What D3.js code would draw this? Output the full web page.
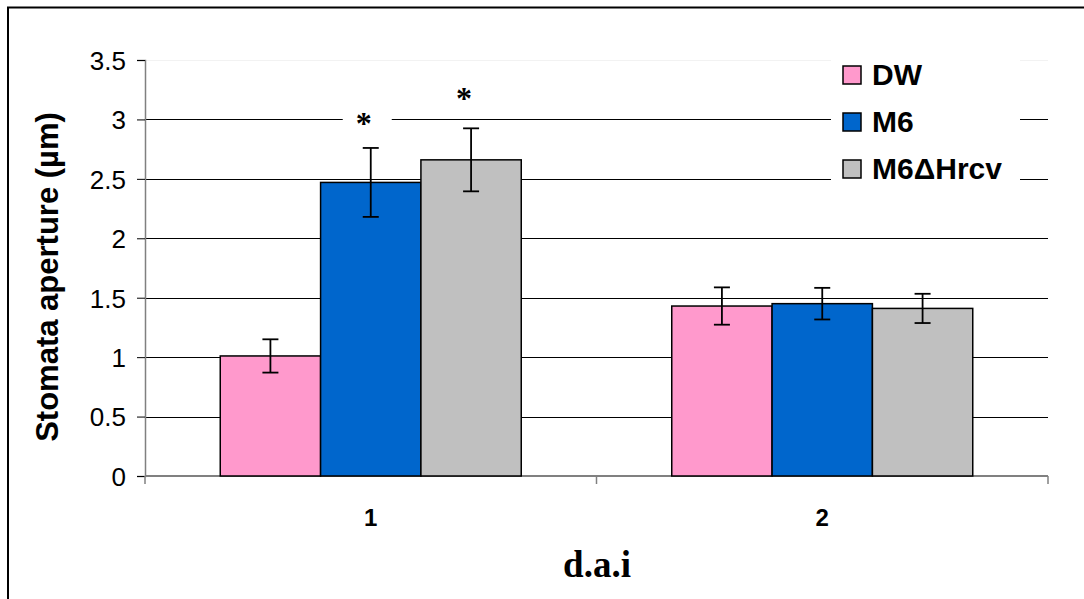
<!DOCTYPE html>
<html>
<head>
<meta charset="utf-8">
<script src="https://cdn.jsdelivr.net/npm/d3@7/dist/d3.min.js"></script>
<style>
  html, body { margin: 0; padding: 0; background: #fff; }
  svg { display: block; }
</style>
</head>
<body>
<svg id="chart" width="1084" height="599"></svg>
<script>
// ---- data ----
const categories = ["1", "2"];
const seriesNames = ["DW", "M6", "M6\u0394Hrcv"];
const seriesColors = ["#FF99CC", "#0066CC", "#C0C0C0"];
const meanDW = [1.01, 1.43];
const meanM6 = [2.47, 1.45];
const meanM6H = [2.66, 1.41];
const errDW = [0.14, 0.157];
const errM6 = [0.29, 0.133];
const errM6H = [0.265, 0.123];
const yTicks = [0, 0.5, 1, 1.5, 2, 2.5, 3, 3.5];
// significance marks: [category, series index]
const stars = [["1", 1], ["1", 2]];
const starOffset = [0.23, 0.27];

const means = [meanDW, meanM6, meanM6H];
const errs = [errDW, errM6, errM6H];
const table = [];
categories.forEach((c, ci) => seriesNames.forEach((s, si) => {
  table.push({cat: c, ser: s, si: si, v: means[si][ci], e: errs[si][ci]});
}));

const svg = d3.select("#chart");
const plot = {left: 145, right: 1048, top: 60, bottom: 476};

// outer border (extends past right/bottom edges)
svg.append("rect").attr("x", 8).attr("y", 7.5).attr("width", 1200).attr("height", 800)
  .attr("fill", "#fff").attr("stroke", "#000").attr("stroke-width", 2);

const y = d3.scaleLinear().domain([0, 3.5]).range([plot.bottom, plot.top]);
const x = d3.scaleBand().domain(categories).range([plot.left, plot.right]).padding(0);
const bw = x.bandwidth() / 4.5;
const xs = d3.scaleBand().domain(seriesNames)
  .range([0.75 * bw, x.bandwidth() - 0.75 * bw]).padding(0);

// gridlines
svg.append("g").selectAll("line").data(yTicks.filter(t => t > 0)).join("line")
  .attr("x1", plot.left).attr("x2", plot.right)
  .attr("y1", d => Math.round(y(d)) + 0.5).attr("y2", d => Math.round(y(d)) + 0.5)
  .attr("stroke", d => d === 3.5 ? "#f2f2f2" : "#000").attr("stroke-width", 1);

// y axis
const yAxis = svg.append("g").attr("transform", `translate(${plot.left},0)`)
  .call(d3.axisLeft(y).tickValues(yTicks).tickSize(8).tickPadding(11).tickFormat(d3.format("")));
yAxis.select(".domain").attr("stroke", "#808080").attr("stroke-width", 1.5);
yAxis.selectAll(".tick line").attr("stroke", "#000");
yAxis.selectAll(".tick text").attr("font-family", "Liberation Sans, Arial, sans-serif")
  .attr("font-size", 26).attr("fill", "#000").attr("dy", "0.36em");

// x axis
const xAxis = svg.append("g").attr("transform", `translate(0,${plot.bottom})`);
xAxis.append("line").attr("x1", plot.left).attr("x2", plot.right).attr("y1", 0).attr("y2", 0)
  .attr("stroke", "#808080").attr("stroke-width", 2);
const bounds = categories.map(c => x(c)).concat([x(categories[categories.length - 1]) + x.bandwidth()]);
xAxis.selectAll("line.tk").data(bounds).join("line").attr("class", "tk")
  .attr("x1", d => d).attr("x2", d => d).attr("y1", 0).attr("y2", 8)
  .attr("stroke", "#808080").attr("stroke-width", 1.5);
xAxis.selectAll("text").data(categories).join("text")
  .attr("x", d => x(d) + x.bandwidth() / 2).attr("y", 50)
  .attr("text-anchor", "middle").attr("font-family", "Liberation Sans, Arial, sans-serif")
  .attr("font-weight", "bold").attr("font-size", 24).text(d => d);

// bars
svg.append("g").selectAll("rect").data(table).join("rect")
  .attr("x", d => x(d.cat) + xs(d.ser))
  .attr("y", d => y(d.v))
  .attr("width", xs.bandwidth())
  .attr("height", d => y(0) - y(d.v))
  .attr("fill", d => seriesColors[d.si])
  .attr("stroke", "#000").attr("stroke-width", 1.5);

// error bars
const eb = svg.append("g").attr("stroke", "#000").attr("stroke-width", 1.8);
table.forEach(d => {
  const cx = x(d.cat) + xs(d.ser) + xs.bandwidth() / 2;
  eb.append("line").attr("x1", cx).attr("x2", cx).attr("y1", y(d.v + d.e)).attr("y2", y(d.v - d.e));
  [d.v + d.e, d.v - d.e].forEach(v => {
    eb.append("line").attr("x1", cx - 8).attr("x2", cx + 8).attr("y1", y(v)).attr("y2", y(v));
  });
});

// significance stars
stars.forEach(([c, si], i) => {
  const d = table.find(t => t.cat === c && t.si === si);
  const cx = x(c) + xs(d.ser) + xs.bandwidth() / 2 - 7;
  const cy = y(d.v + d.e + starOffset[i]);
  svg.append("rect").attr("x", cx - 21).attr("y", cy - 16).attr("width", 49).attr("height", 32).attr("fill", "#fff");
  svg.append("text").attr("x", cx).attr("y", cy + 13).attr("text-anchor", "middle")
    .attr("font-family", "Liberation Serif, Times New Roman, serif").attr("font-weight", "bold")
    .attr("font-size", 32).text("*");
});

// legend
const lg = svg.append("g");
lg.append("rect").attr("x", 831).attr("y", 52).attr("width", 189).attr("height", 143).attr("fill", "#fff");
seriesNames.forEach((s, i) => {
  const yy = 66 + i * 47;
  lg.append("rect").attr("x", 843).attr("y", yy).attr("width", 18).attr("height", 18)
    .attr("fill", seriesColors[i]).attr("stroke", "#000").attr("stroke-width", 1.5);
  lg.append("text").attr("x", 872).attr("y", yy + 19)
    .attr("font-family", "Liberation Sans, Arial, sans-serif").attr("font-weight", "bold")
    .attr("font-size", 30).text(s);
});

// axis titles
svg.append("text").attr("transform", "translate(58,277) rotate(-90)")
  .attr("text-anchor", "middle").attr("font-family", "Liberation Sans, Arial, sans-serif")
  .attr("font-weight", "bold").attr("font-size", 31).text("Stomata aperture (\u00b5m)");
svg.append("text").attr("x", 597).attr("y", 577).attr("text-anchor", "middle")
  .attr("font-family", "Liberation Serif, Times New Roman, serif").attr("font-weight", "bold")
  .attr("font-size", 37).text("d.a.i");
</script>
</body>
</html>
